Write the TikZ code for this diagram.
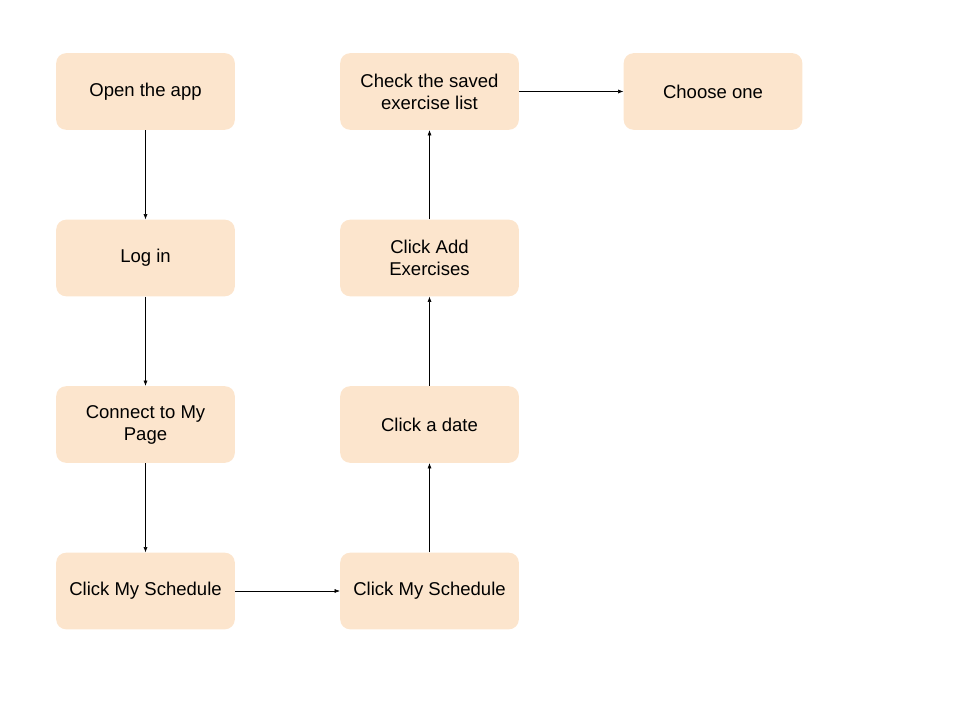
\documentclass[tikz,border=0pt]{standalone}
\usepackage{fontspec}
\setmainfont{Liberation Sans}
\usetikzlibrary{arrows.meta}
\definecolor{boxfill}{HTML}{FCE5CD}

\begin{document}
\begin{tikzpicture}[x=0.75pt, y=-0.75pt, font=\fontsize{13.9}{16.5}\selectfont,
    stepbox/.style={fill=boxfill, rounded corners=7.5pt, minimum width=134pt, minimum height=57.5pt, align=center, inner sep=0pt},
    flow/.style={thin, -{Latex[length=4pt, width=3pt]}}]
            \useasboundingbox (0,0) rectangle (960,720);
            % Nodes
            \node[stepbox] (open) at (145.5,91.5) {Open the app};
            \node[stepbox] (login) at (145.5,258) {Log in};
            \node[stepbox] (mypage) at (145.5,424.5) {Connect to My\\Page};
            \node[stepbox] (sched1) at (145.5,591) {Click My Schedule};
            \node[stepbox] (sched2) at (429.5,591) {Click My Schedule};
            \node[stepbox] (date) at (429.5,424.5) {Click a date};
            \node[stepbox] (addex) at (429.5,258) {Click Add\\Exercises};
            \node[stepbox] (saved) at (429.5,91.5) {Check the saved\\exercise list};
            \node[stepbox] (choose) at (713,91.5) {Choose one};
        
            % Lines
            \draw[flow] (open) -- (login);
            \draw[flow] (login) -- (mypage);
            \draw[flow] (mypage) -- (sched1);
            \draw[flow] (sched1) -- (sched2);
            \draw[flow] (sched2) -- (date);
            \draw[flow] (date) -- (addex);
            \draw[flow] (addex) -- (saved);
            \draw[flow] (saved) -- (choose);
        \end{tikzpicture}
\end{document}
